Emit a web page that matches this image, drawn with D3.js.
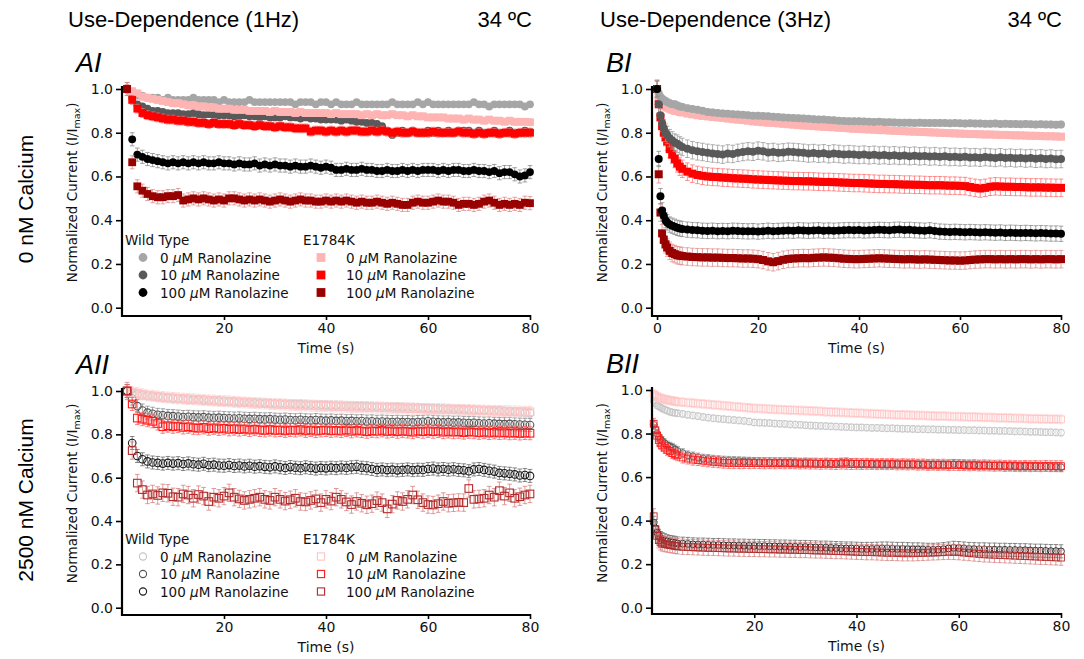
<!DOCTYPE html>
<html>
<head>
<meta charset="utf-8">
<script src="https://cdn.jsdelivr.net/npm/d3@7"></script>
<style>
body { margin: 0; background: #fff; }
svg { display: block; }
</style>
</head>
<body>
<svg width="1084" height="659"></svg>
<script>
// sweep times (s): 1 Hz trains = one sweep a second, 3 Hz trains sampled early then once a second
var time1Hz = d3.range(1, 81);
var time3Hz = [0, 0.33, 0.67, 1, 1.33, 1.67, 2, 2.5, 3, 3.5, 4, 4.5, 5].concat(d3.range(6, 81));

var legendWT = ["0 μM Ranolazine", "10 μM Ranolazine", "100 μM Ranolazine"];
var xTicksA = [20, 40, 60, 80];
var xTicksBI = [0, 20, 40, 60, 80];
var yTicks = [0, 0.2, 0.4, 0.6, 0.8, 1.0];

// ---- AI : 0 nM Ca, 1 Hz ----
var aiWT0 = [1.00,0.98,0.97,0.97,0.96,0.96,0.96,0.95,0.96,0.95,
 0.95,0.95,0.95,0.96,0.95,0.95,0.95,0.95,0.94,0.95,
 0.94,0.94,0.94,0.94,0.95,0.94,0.94,0.94,0.94,0.94,
 0.94,0.94,0.94,0.93,0.94,0.94,0.94,0.93,0.94,0.94,
 0.93,0.94,0.93,0.93,0.93,0.94,0.93,0.93,0.93,0.93,
 0.93,0.93,0.94,0.93,0.93,0.93,0.93,0.94,0.93,0.94,
 0.93,0.93,0.93,0.93,0.93,0.93,0.93,0.93,0.94,0.93,
 0.93,0.92,0.93,0.93,0.93,0.93,0.93,0.93,0.92,0.93];
var aiWT10 = [1.00,0.96,0.93,0.92,0.91,0.90,0.90,0.895,0.89,0.89,
 0.89,0.885,0.885,0.89,0.885,0.88,0.885,0.88,0.88,0.88,
 0.88,0.875,0.875,0.88,0.875,0.875,0.87,0.875,0.87,0.87,
 0.87,0.875,0.87,0.87,0.865,0.87,0.865,0.865,0.86,0.86,
 0.86,0.86,0.855,0.86,0.855,0.85,0.85,0.845,0.845,0.84,
 0.83,0.81,0.79,0.80,0.81,0.80,0.81,0.80,0.80,0.81,
 0.80,0.81,0.80,0.81,0.80,0.81,0.81,0.81,0.80,0.81,
 0.80,0.80,0.81,0.80,0.80,0.81,0.80,0.80,0.81,0.805];
var aiWT100 = [1.00,0.77,0.70,0.69,0.68,0.675,0.67,0.665,0.66,0.665,
 0.66,0.665,0.66,0.665,0.66,0.665,0.66,0.66,0.665,0.66,
 0.66,0.655,0.66,0.655,0.655,0.66,0.65,0.655,0.65,0.655,
 0.65,0.65,0.645,0.65,0.645,0.645,0.65,0.645,0.64,0.645,
 0.64,0.63,0.63,0.635,0.63,0.63,0.635,0.63,0.63,0.625,
 0.625,0.63,0.625,0.625,0.63,0.625,0.63,0.625,0.63,0.63,
 0.63,0.625,0.63,0.625,0.63,0.63,0.625,0.625,0.63,0.625,
 0.625,0.62,0.625,0.615,0.62,0.62,0.61,0.60,0.605,0.62];
var aiE0 = [1.00,0.99,0.98,0.965,0.96,0.955,0.95,0.945,0.94,0.935,
 0.935,0.93,0.925,0.925,0.92,0.92,0.915,0.915,0.91,0.91,
 0.91,0.905,0.905,0.905,0.90,0.90,0.90,0.90,0.895,0.90,
 0.895,0.895,0.895,0.89,0.895,0.89,0.89,0.89,0.89,0.89,
 0.885,0.89,0.885,0.885,0.885,0.885,0.88,0.885,0.88,0.885,
 0.88,0.88,0.885,0.88,0.88,0.875,0.88,0.875,0.875,0.87,
 0.87,0.87,0.87,0.865,0.865,0.865,0.86,0.865,0.86,0.86,
 0.855,0.86,0.855,0.855,0.85,0.855,0.85,0.85,0.85,0.848];
var aiE10 = [1.00,0.95,0.91,0.89,0.88,0.875,0.87,0.865,0.86,0.86,
 0.855,0.855,0.85,0.85,0.845,0.845,0.84,0.845,0.84,0.84,
 0.84,0.835,0.84,0.835,0.835,0.83,0.835,0.83,0.83,0.825,
 0.83,0.825,0.825,0.82,0.82,0.82,0.805,0.81,0.81,0.805,
 0.81,0.805,0.81,0.805,0.81,0.81,0.805,0.805,0.81,0.805,
 0.81,0.805,0.80,0.805,0.80,0.80,0.805,0.80,0.80,0.80,
 0.805,0.80,0.80,0.80,0.80,0.805,0.80,0.80,0.795,0.80,
 0.795,0.80,0.80,0.795,0.80,0.80,0.795,0.80,0.80,0.80];
var aiE100 = [1.00,0.665,0.555,0.535,0.52,0.51,0.505,0.505,0.51,0.51,
 0.515,0.49,0.495,0.50,0.495,0.50,0.495,0.49,0.495,0.49,
 0.50,0.50,0.495,0.49,0.495,0.49,0.495,0.49,0.485,0.49,
 0.495,0.49,0.485,0.49,0.495,0.49,0.49,0.485,0.485,0.49,
 0.485,0.49,0.485,0.49,0.485,0.48,0.485,0.48,0.48,0.485,
 0.48,0.475,0.48,0.475,0.47,0.47,0.48,0.485,0.48,0.48,
 0.485,0.49,0.485,0.485,0.48,0.47,0.475,0.475,0.47,0.475,
 0.485,0.49,0.48,0.47,0.475,0.47,0.475,0.47,0.48,0.478];
var aiSem = [0.008, 0.012, 0.03, 0.015, 0.02, 0.03];

// ---- BI : 0 nM Ca, 3 Hz ----
var biWT0 = [1.00,0.98,0.965,0.955,0.95,0.945,0.94,0.935,0.93,0.93,0.925,0.92,0.918,
 0.912,0.908,0.905,0.90,0.895,0.893,0.89,0.888,0.887,0.885,
 0.883,0.882,0.88,0.878,0.878,0.876,0.875,0.873,0.872,0.87,
 0.868,0.867,0.866,0.865,0.864,0.862,0.86,0.86,0.858,0.857,
 0.855,0.854,0.853,0.852,0.852,0.851,0.85,0.849,0.85,0.848,
 0.848,0.847,0.846,0.846,0.846,0.845,0.846,0.845,0.844,0.845,
 0.845,0.844,0.843,0.844,0.843,0.842,0.843,0.842,0.842,0.841,
 0.841,0.842,0.84,0.841,0.84,0.84,0.839,0.84,0.839,0.838,
 0.839,0.838,0.838,0.837,0.838];
var biWT10 = [1.00,0.93,0.88,0.845,0.82,0.80,0.79,0.775,0.765,0.755,0.75,0.742,0.735,
 0.727,0.72,0.715,0.712,0.708,0.705,0.703,0.70,0.705,0.703,
 0.708,0.712,0.715,0.713,0.718,0.715,0.71,0.712,0.708,0.71,
 0.713,0.712,0.71,0.708,0.705,0.707,0.704,0.706,0.702,0.705,
 0.703,0.70,0.702,0.70,0.698,0.70,0.697,0.699,0.696,0.698,
 0.695,0.697,0.694,0.696,0.693,0.695,0.692,0.694,0.691,0.693,
 0.69,0.692,0.689,0.69,0.688,0.69,0.687,0.688,0.686,0.689,
 0.687,0.685,0.688,0.684,0.686,0.683,0.685,0.682,0.684,0.681,
 0.683,0.68,0.682,0.679,0.68];
var biWT100 = [1.00,0.68,0.51,0.445,0.42,0.40,0.39,0.38,0.375,0.37,0.365,0.362,0.36,
 0.357,0.355,0.354,0.352,0.351,0.352,0.35,0.351,0.35,0.352,
 0.351,0.35,0.349,0.35,0.348,0.35,0.352,0.35,0.351,0.352,
 0.353,0.352,0.354,0.353,0.352,0.353,0.354,0.352,0.353,0.352,
 0.353,0.354,0.355,0.354,0.355,0.353,0.354,0.355,0.356,0.355,
 0.354,0.356,0.357,0.355,0.356,0.354,0.353,0.352,0.354,0.351,
 0.348,0.347,0.346,0.347,0.346,0.345,0.346,0.345,0.344,0.345,
 0.344,0.343,0.344,0.342,0.343,0.342,0.341,0.342,0.341,0.34,
 0.341,0.34,0.339,0.339,0.338];
var biE0 = [1.00,0.96,0.94,0.93,0.925,0.92,0.915,0.91,0.905,0.90,0.90,0.895,0.893,
 0.888,0.884,0.88,0.877,0.875,0.872,0.87,0.868,0.865,0.862,
 0.86,0.858,0.855,0.852,0.85,0.848,0.846,0.845,0.843,0.841,
 0.839,0.837,0.835,0.833,0.832,0.83,0.829,0.827,0.826,0.825,
 0.823,0.822,0.82,0.818,0.817,0.816,0.815,0.814,0.812,0.812,
 0.81,0.809,0.808,0.807,0.806,0.805,0.804,0.803,0.802,0.801,
 0.80,0.799,0.798,0.797,0.796,0.795,0.794,0.794,0.793,0.792,
 0.792,0.791,0.79,0.79,0.789,0.788,0.788,0.787,0.786,0.786,
 0.785,0.784,0.784,0.783,0.782];
var biE10 = [1.00,0.93,0.87,0.83,0.80,0.78,0.76,0.725,0.70,0.68,0.66,0.645,0.635,
 0.622,0.613,0.607,0.603,0.60,0.598,0.597,0.595,0.594,0.592,
 0.591,0.59,0.589,0.587,0.586,0.585,0.584,0.583,0.582,0.581,
 0.58,0.579,0.579,0.578,0.578,0.577,0.576,0.575,0.575,0.574,
 0.573,0.572,0.571,0.57,0.57,0.569,0.568,0.567,0.566,0.566,
 0.565,0.565,0.564,0.563,0.563,0.562,0.562,0.561,0.56,0.56,
 0.56,0.559,0.558,0.558,0.557,0.556,0.552,0.548,0.545,0.548,
 0.553,0.555,0.554,0.553,0.553,0.552,0.552,0.551,0.55,0.55,
 0.55,0.549,0.549,0.548,0.548];
var biE100 = [1.00,0.61,0.435,0.34,0.31,0.29,0.275,0.26,0.25,0.245,0.24,0.238,0.236,
 0.234,0.232,0.231,0.23,0.23,0.229,0.229,0.228,0.227,0.227,
 0.226,0.225,0.225,0.224,0.222,0.218,0.212,0.208,0.213,0.219,
 0.223,0.225,0.226,0.227,0.226,0.228,0.229,0.23,0.229,0.228,
 0.226,0.224,0.223,0.222,0.222,0.223,0.224,0.225,0.226,0.225,
 0.224,0.223,0.222,0.221,0.222,0.221,0.22,0.221,0.22,0.219,
 0.218,0.217,0.216,0.216,0.215,0.216,0.218,0.22,0.221,0.222,
 0.222,0.221,0.222,0.221,0.222,0.221,0.222,0.222,0.221,0.222,
 0.221,0.222,0.222,0.221,0.222];
var biSem = [0.015, 0.04, 0.035, 0.015, 0.04, 0.04];

// ---- AII : 2500 nM Ca, 1 Hz ----
var aiiWT0 = [1.00,0.99,0.985,0.98,0.978,0.975,0.972,0.97,0.968,0.966,
 0.965,0.963,0.962,0.96,0.96,0.958,0.956,0.955,0.954,0.952,
 0.951,0.95,0.949,0.948,0.947,0.946,0.945,0.944,0.943,0.942,
 0.942,0.941,0.94,0.939,0.939,0.938,0.937,0.937,0.936,0.935,
 0.934,0.934,0.933,0.932,0.932,0.931,0.93,0.93,0.929,0.928,
 0.928,0.927,0.926,0.926,0.925,0.924,0.924,0.923,0.922,0.921,
 0.92,0.92,0.919,0.918,0.917,0.916,0.915,0.914,0.913,0.912,
 0.911,0.91,0.909,0.908,0.906,0.905,0.904,0.902,0.90,0.898];
var aiiWT10 = [1.00,0.965,0.93,0.91,0.90,0.895,0.89,0.888,0.885,0.884,
 0.882,0.88,0.881,0.879,0.878,0.879,0.877,0.876,0.877,0.875,
 0.874,0.873,0.874,0.872,0.871,0.872,0.87,0.869,0.87,0.868,
 0.867,0.868,0.866,0.865,0.867,0.865,0.864,0.866,0.864,0.863,
 0.864,0.862,0.863,0.861,0.862,0.86,0.861,0.859,0.86,0.858,
 0.859,0.858,0.857,0.858,0.856,0.857,0.855,0.857,0.858,0.86,
 0.858,0.856,0.855,0.856,0.854,0.855,0.853,0.852,0.853,0.851,
 0.85,0.851,0.849,0.848,0.847,0.848,0.846,0.845,0.844,0.843];
var aiiWT100 = [1.00,0.76,0.70,0.685,0.675,0.67,0.668,0.665,0.668,0.665,
 0.667,0.663,0.666,0.662,0.66,0.664,0.658,0.66,0.656,0.655,
 0.658,0.654,0.656,0.652,0.655,0.651,0.653,0.65,0.648,0.652,
 0.648,0.645,0.649,0.646,0.644,0.648,0.645,0.642,0.645,0.643,
 0.646,0.644,0.647,0.645,0.648,0.65,0.646,0.644,0.64,0.636,
 0.638,0.635,0.637,0.634,0.636,0.638,0.635,0.637,0.636,0.64,
 0.642,0.638,0.64,0.637,0.639,0.636,0.634,0.63,0.638,0.64,
 0.636,0.632,0.628,0.622,0.62,0.618,0.615,0.61,0.612,0.608];
var aiiE0 = [1.00,0.995,0.99,0.985,0.98,0.978,0.975,0.972,0.97,0.968,
 0.966,0.965,0.963,0.962,0.96,0.958,0.957,0.956,0.954,0.953,
 0.952,0.95,0.948,0.947,0.946,0.944,0.943,0.942,0.94,0.939,
 0.938,0.937,0.936,0.935,0.934,0.933,0.932,0.931,0.93,0.93,
 0.929,0.928,0.928,0.927,0.926,0.926,0.925,0.924,0.924,0.923,
 0.922,0.922,0.921,0.92,0.92,0.919,0.918,0.918,0.917,0.916,
 0.916,0.915,0.915,0.914,0.913,0.913,0.912,0.912,0.911,0.91,
 0.91,0.909,0.908,0.908,0.907,0.906,0.906,0.905,0.905,0.904];
var aiiE10 = [1.00,0.94,0.875,0.87,0.865,0.86,0.85,0.835,0.84,0.835,
 0.838,0.832,0.835,0.83,0.828,0.832,0.826,0.83,0.825,0.828,
 0.823,0.826,0.822,0.825,0.82,0.824,0.82,0.818,0.822,0.818,
 0.82,0.816,0.82,0.818,0.822,0.816,0.82,0.815,0.818,0.82,
 0.816,0.818,0.815,0.82,0.814,0.818,0.815,0.812,0.816,0.814,
 0.818,0.813,0.816,0.812,0.815,0.813,0.81,0.815,0.812,0.816,
 0.812,0.815,0.81,0.813,0.81,0.812,0.808,0.812,0.81,0.807,
 0.81,0.806,0.809,0.806,0.808,0.805,0.807,0.804,0.806,0.805];
var aiiE100 = [1.00,0.725,0.575,0.545,0.52,0.525,0.518,0.53,0.528,0.512,
 0.51,0.525,0.52,0.505,0.522,0.515,0.49,0.51,0.505,0.515,
 0.53,0.51,0.502,0.495,0.50,0.505,0.51,0.50,0.495,0.51,
 0.50,0.492,0.498,0.505,0.49,0.488,0.495,0.502,0.485,0.50,
 0.492,0.51,0.50,0.488,0.476,0.49,0.482,0.475,0.48,0.494,
 0.485,0.456,0.478,0.495,0.49,0.50,0.52,0.498,0.485,0.476,
 0.474,0.48,0.49,0.482,0.484,0.486,0.485,0.55,0.50,0.502,
 0.505,0.52,0.51,0.54,0.515,0.53,0.505,0.512,0.52,0.525];
var aiiSem = [0.02, 0.03, 0.03, 0.025, 0.03, 0.04];

// ---- BII : 2500 nM Ca, 3 Hz (first recorded sweep at 0.33 s) ----
var biiWT0 = [0.95,0.94,0.93,0.925,0.92,0.915,0.91,0.905,0.90,0.897,0.895,0.893,
 0.89,0.886,0.883,0.88,0.876,0.873,0.87,0.868,0.866,0.864,
 0.862,0.86,0.858,0.855,0.851,0.85,0.849,0.848,0.846,0.845,
 0.844,0.842,0.841,0.84,0.838,0.837,0.836,0.835,0.834,0.833,
 0.832,0.831,0.83,0.829,0.828,0.828,0.827,0.826,0.826,0.825,
 0.824,0.824,0.823,0.822,0.822,0.821,0.82,0.82,0.819,0.819,
 0.818,0.818,0.817,0.817,0.816,0.816,0.815,0.815,0.814,0.814,
 0.813,0.813,0.812,0.812,0.811,0.81,0.81,0.809,0.808,0.808,
 0.807,0.806,0.806,0.805,0.804];
var biiWT10 = [0.84,0.82,0.80,0.785,0.775,0.765,0.755,0.745,0.74,0.735,0.727,0.72,
 0.71,0.70,0.695,0.69,0.685,0.683,0.68,0.678,0.676,0.675,
 0.674,0.673,0.672,0.671,0.67,0.669,0.669,0.668,0.668,0.667,
 0.667,0.666,0.666,0.665,0.665,0.665,0.664,0.664,0.664,0.663,
 0.664,0.666,0.668,0.665,0.663,0.662,0.662,0.661,0.661,0.66,
 0.66,0.66,0.66,0.659,0.659,0.659,0.658,0.658,0.657,0.657,
 0.657,0.656,0.657,0.66,0.658,0.656,0.655,0.655,0.654,0.654,
 0.653,0.653,0.652,0.652,0.651,0.651,0.65,0.65,0.649,0.649,
 0.648,0.648,0.647,0.646,0.645];
var biiWT100 = [0.39,0.365,0.345,0.33,0.32,0.315,0.31,0.305,0.302,0.30,0.298,0.295,
 0.294,0.293,0.291,0.29,0.29,0.289,0.288,0.288,0.287,0.286,
 0.286,0.285,0.285,0.284,0.284,0.283,0.283,0.282,0.282,0.281,
 0.281,0.28,0.28,0.279,0.279,0.278,0.277,0.276,0.276,0.275,
 0.274,0.273,0.272,0.272,0.271,0.27,0.27,0.27,0.271,0.272,
 0.272,0.271,0.27,0.27,0.269,0.268,0.268,0.267,0.266,0.266,
 0.267,0.269,0.272,0.275,0.274,0.272,0.27,0.269,0.268,0.268,
 0.267,0.267,0.266,0.266,0.265,0.265,0.264,0.264,0.263,0.262,
 0.262,0.261,0.26,0.26,0.259];
var biiE0 = [0.98,0.975,0.97,0.965,0.962,0.96,0.957,0.955,0.952,0.95,0.948,0.946,
 0.944,0.942,0.94,0.938,0.936,0.934,0.932,0.93,0.928,0.926,
 0.924,0.922,0.92,0.918,0.916,0.915,0.914,0.912,0.911,0.91,
 0.909,0.908,0.907,0.906,0.905,0.904,0.903,0.902,0.90,0.899,
 0.898,0.897,0.896,0.895,0.894,0.893,0.892,0.891,0.89,0.889,
 0.888,0.887,0.886,0.886,0.885,0.884,0.883,0.883,0.882,0.881,
 0.88,0.88,0.879,0.878,0.878,0.877,0.876,0.876,0.875,0.874,
 0.874,0.873,0.872,0.872,0.871,0.87,0.87,0.869,0.868,0.868,
 0.867,0.867,0.866,0.866,0.865];
var biiE10 = [0.845,0.815,0.79,0.77,0.755,0.745,0.735,0.725,0.72,0.71,0.705,0.70,
 0.69,0.685,0.68,0.678,0.675,0.672,0.67,0.668,0.666,0.665,
 0.665,0.664,0.665,0.664,0.665,0.664,0.663,0.664,0.663,0.664,
 0.663,0.664,0.663,0.662,0.663,0.662,0.662,0.661,0.662,0.661,
 0.66,0.662,0.661,0.66,0.661,0.66,0.661,0.66,0.659,0.66,
 0.659,0.66,0.658,0.659,0.658,0.659,0.657,0.658,0.656,0.657,
 0.656,0.657,0.655,0.656,0.655,0.655,0.654,0.655,0.653,0.654,
 0.653,0.652,0.653,0.651,0.652,0.651,0.65,0.651,0.65,0.651,
 0.65,0.651,0.65,0.65,0.65];
var biiE100 = [0.42,0.36,0.33,0.31,0.30,0.295,0.292,0.29,0.288,0.286,0.284,0.282,
 0.28,0.279,0.278,0.277,0.276,0.275,0.275,0.274,0.273,0.272,
 0.272,0.271,0.271,0.27,0.27,0.269,0.269,0.268,0.268,0.267,
 0.267,0.266,0.266,0.265,0.265,0.264,0.263,0.263,0.262,0.261,
 0.26,0.26,0.259,0.258,0.257,0.256,0.255,0.255,0.254,0.253,
 0.252,0.252,0.251,0.25,0.25,0.25,0.251,0.252,0.253,0.254,
 0.255,0.256,0.257,0.256,0.255,0.253,0.251,0.249,0.247,0.245,
 0.244,0.243,0.242,0.241,0.24,0.239,0.238,0.237,0.236,0.235,
 0.234,0.233,0.232,0.231,0.23];
var biiSem = [0.015, 0.02, 0.03, 0.02, 0.025, 0.035];

var svg = d3.select("svg");
var sans = "'DejaVu Sans', sans-serif", arial = "'Liberation Sans', Arial, sans-serif";

var filled = {
  color: ["#a6a6a6", "#595959", "#000000", "#ffb4b4", "#ff0000", "#990000"],
  err: ["#c8c8c8", "#9a9a9a", "#8a8a8a", "#ffcccc", "#ff7070", "#e08a8a"]
};
var open = {
  color: ["#c4c4c4", "#555555", "#1a1a1a", "#ffc4c4", "#ff1a1a", "#b32a2a"],
  err: ["#d0d0d0", "#8c8c8c", "#6a6a6a", "#ffd0d0", "#ff6060", "#d88080"]
};

function addMarker(sel, isSquare, r, color, hollow, sw) {
  var m;
  if (isSquare) {
    m = sel.append("rect").attr("x", -r).attr("y", -r).attr("width", 2 * r).attr("height", 2 * r);
  } else {
    m = sel.append("circle").attr("r", r);
  }
  if (hollow) m.attr("fill", "none").attr("stroke", color).attr("stroke-width", sw);
  else m.attr("fill", color);
  return m;
}

function drawPanel(p) {
  var x = d3.scaleLinear().domain(p.xDomain).range([p.left, p.right]);
  var y = d3.scaleLinear().domain([0, 1]).range([p.y0, p.y1]);
  var g = svg.append("g");

  p.order.forEach(function (k) {
    var vals = p.series[k];
    var t = p.time.slice(p.time.length - vals.length);
    var pts = vals.map(function (v, i) { return { t: t[i], v: v }; });
    var sem = p.sem[k], col = p.style.color[k], ecol = p.style.err[k];
    var sg = g.append("g");
    sg.selectAll("path")
      .data(pts)
      .enter()
      .append("path")
      .attr("d", function (d) {
        var xx = x(d.t), a = y(d.v + sem), b = y(d.v - sem);
        return "M" + (xx - 2.3) + "," + a + "H" + (xx + 2.3) + "M" + xx + "," + a + "V" + b +
          "M" + (xx - 2.3) + "," + b + "H" + (xx + 2.3);
      })
      .attr("fill", "none")
      .attr("stroke", ecol)
      .attr("stroke-width", 0.8);
    sg.selectAll("g.pt")
      .data(pts)
      .enter()
      .append("g")
      .attr("class", "pt")
      .attr("transform", function (d) { return "translate(" + x(d.t) + "," + y(d.v) + ")"; })
      .each(function () {
        addMarker(d3.select(this), k > 2, p.r, col, p.hollow, p.sw);
      });
  });

  // axes
  var ya = g.append("g")
    .attr("transform", "translate(" + p.left0 + ",0)")
    .call(d3.axisLeft(y).tickValues(yTicks).tickFormat(d3.format(".1f")).tickSize(6).tickPadding(3));
  var xa = g.append("g")
    .attr("transform", "translate(0," + p.axisY + ")")
    .call(d3.axisBottom(x).tickValues(p.xTicks).tickSize(5).tickPadding(3));
  [ya, xa].forEach(function (a) {
    a.select(".domain").remove();
    a.selectAll("line").attr("stroke", "#000").attr("stroke-width", 1.6);
    a.selectAll("text").attr("font-family", sans).attr("font-size", 14).attr("fill", "#111");
  });
  g.append("path")
    .attr("d", "M" + p.left0 + "," + (p.y1 - 3) + "V" + (p.axisY + 1) + "H" + (p.right + 1))
    .attr("fill", "none")
    .attr("stroke", "#000")
    .attr("stroke-width", 2.2);

  // axis titles
  var yl = g.append("text")
    .attr("transform", "translate(" + p.ylabX + "," + ((p.y0 + p.y1) / 2 - 6) + ") rotate(-90)")
    .attr("text-anchor", "middle")
    .attr("font-family", sans)
    .attr("font-size", 13.5)
    .attr("fill", "#111");
  yl.append("tspan").text("Normalized Current (I/I");
  yl.append("tspan").attr("font-size", 9.5).attr("dy", 3).text("max");
  yl.append("tspan").attr("dy", -3).text(")");

  g.append("text")
    .attr("x", (p.left0 + p.right) / 2)
    .attr("y", p.axisY + 38)
    .attr("text-anchor", "middle")
    .attr("font-family", sans)
    .attr("font-size", 14)
    .attr("fill", "#111")
    .text("Time (s)");

  g.append("text")
    .attr("x", p.left0 - 46)
    .attr("y", p.y1 - 17)
    .attr("font-family", arial)
    .attr("font-style", "italic")
    .attr("font-size", 27)
    .attr("fill", "#000")
    .text(p.name);

  if (p.legend) {
    var lg = g.append("g").attr("font-family", sans).attr("font-size", 13.5).attr("fill", "#111");
    var lx = [p.left0 + 3, p.left0 + 181];
    ["Wild Type", "E1784K"].forEach(function (h, c) {
      lg.append("text").attr("x", lx[c]).attr("y", p.legend + 5).text(h);
      legendWT.forEach(function (lab, i) {
        var k = c * 3 + i, yy = p.legend + 17.5 * (i + 1);
        var mg = lg.append("g").attr("transform", "translate(" + (lx[c] + 18) + "," + yy + ")");
        addMarker(mg, c === 1, p.hollow ? 3.6 : 4.4, p.style.color[k], p.hollow, 1.1);
        var tx = lg.append("text").attr("x", lx[c] + (c ? 43 : 35)).attr("y", yy + 5);
        var parts = lab.split("μ");
        tx.append("tspan").text(parts[0]);
        tx.append("tspan").attr("font-style", "italic").text("μ");
        tx.append("tspan").text(parts[1]);
      });
    });
  }
}

drawPanel({
  name: "AI", time: time1Hz, xDomain: [0, 80], left: 122, right: 530, left0: 122,
  y0: 307.7, y1: 89, axisY: 315, xTicks: xTicksA, ylabX: 77,
  series: [aiWT0, aiWT10, aiWT100, aiE0, aiE10, aiE100], sem: aiSem, order: [0, 1, 2, 3, 4, 5],
  style: filled, r: 3.9, hollow: false, legend: 240
});
drawPanel({
  name: "BI", time: time3Hz, xDomain: [-1, 80], left: 652, right: 1061, left0: 652,
  y0: 307.7, y1: 89, axisY: 315, xTicks: xTicksBI, ylabX: 607,
  series: [biWT0, biWT10, biWT100, biE0, biE10, biE100], sem: biSem, order: [3, 4, 5, 0, 1, 2],
  style: filled, r: 4, hollow: false
});
drawPanel({
  name: "AII", time: time1Hz, xDomain: [0, 80], left: 122, right: 530, left0: 122,
  y0: 607.7, y1: 391, axisY: 614, xTicks: xTicksA, ylabX: 77,
  series: [aiiWT0, aiiWT10, aiiWT100, aiiE0, aiiE10, aiiE100], sem: aiiSem, order: [0, 1, 2, 3, 4, 5],
  style: open, r: 3.8, hollow: true, sw: 1.1, legend: 539
});
drawPanel({
  name: "BII", time: time3Hz, xDomain: [0, 80], left: 652, right: 1061, left0: 652,
  y0: 607.7, y1: 390, axisY: 613, xTicks: xTicksA, ylabX: 607,
  series: [biiWT0, biiWT10, biiWT100, biiE0, biiE10, biiE100], sem: biiSem, order: [0, 1, 2, 3, 4, 5],
  style: open, r: 3.4, hollow: true, sw: 0.9
});

// headers
[[68, 532, "Use-Dependence (1Hz)"], [600, 1062, "Use-Dependence (3Hz)"]].forEach(function (h) {
  svg.append("text").attr("x", h[0]).attr("y", 27).attr("font-family", arial).attr("font-size", 22)
    .attr("fill", "#000").text(h[2]);
  svg.append("text").attr("x", h[1]).attr("y", 27).attr("text-anchor", "end").attr("font-family", arial)
    .attr("font-size", 22).attr("fill", "#000").text("34 ºC");
});
[[199, "0 nM Calcium"], [500, "2500 nM Calcium"]].forEach(function (r) {
  svg.append("text")
    .attr("transform", "translate(33," + r[0] + ") rotate(-90)")
    .attr("text-anchor", "middle")
    .attr("font-family", arial)
    .attr("font-size", 21)
    .attr("fill", "#000")
    .text(r[1]);
});
</script>
</body>
</html>
